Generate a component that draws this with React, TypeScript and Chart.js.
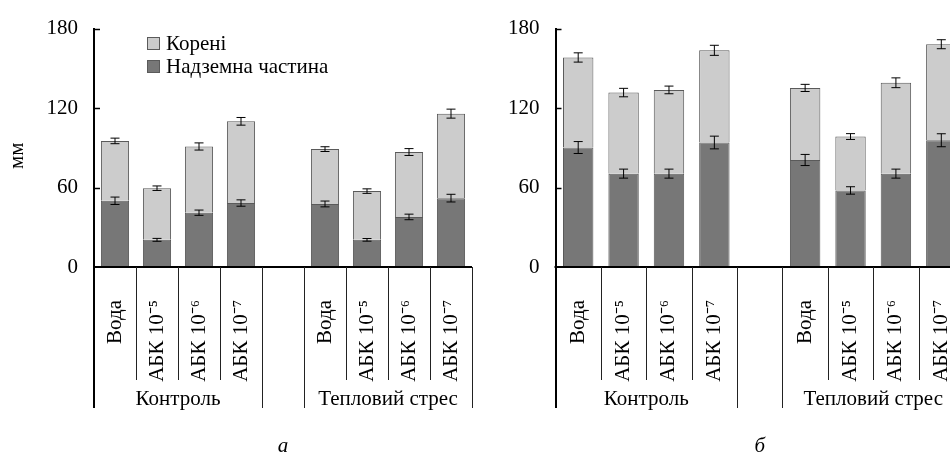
import React, { useEffect, useRef } from "react";
import { Chart, registerables } from "chart.js";
Chart.register(...registerables);

// ---------- data ----------
const categories = ["Вода", "АБК 10⁻⁵", "АБК 10⁻⁶", "АБК 10⁻⁷", "", "Вода", "АБК 10⁻⁵", "АБК 10⁻⁶", "АБК 10⁻⁷"];
const groupLabels = ["Контроль", "Тепловий стрес"];
const groupStart = [0, 5];
const groupEnd = [3, 8];
const seriesNames = ["Корені", "Надземна частина"];
const yTicks = [0, 60, 120, 180];
const yTitle = "мм";

// panel а
const shootA = [50, 20.5, 41, 48.3, null, 47.6, 20.5, 37.8, 52];
const shootErrA = [2.8, 1.1, 2, 2.4, null, 2.2, 1, 2.1, 2.9];
const rootA = [45.2, 39, 50, 61.7, null, 41.4, 36.8, 49, 63.8];
const rootErrA = [2.1, 1.7, 2.7, 2.9, null, 1.8, 1.7, 2.6, 3.4];

// panel б
const shootB = [90.2, 70.5, 70.5, 94, null, 80.8, 57.8, 70.5, 95.7];
const shootErrB = [4.5, 3.4, 3.4, 4.8, null, 4.2, 2.8, 3.4, 4.9];
const rootB = [68, 61.2, 63.2, 69.6, null, 54.4, 40.7, 68.6, 72.5];
const rootErrB = [3.5, 3.2, 2.9, 3.8, null, 2.7, 2.2, 3.7, 3.4];

const captions = ["а", "б"];

// ---------- styles ----------
const FONT = "'Liberation Serif', 'Times New Roman', serif";
const FS = 21;
const ROOT_COLOR = "#cccccc";
const SHOOT_COLOR = "#777777";
const BAR_BORDER = "#5a5a5a";

type PanelOpts = {
  shoot: (number | null)[];
  shootErr: (number | null)[];
  root: (number | null)[];
  rootErr: (number | null)[];
  caption: string;
  legend: boolean;
  title: boolean;
};

function makeOverlay(o: PanelOpts) {
  return {
    id: "overlay",
    afterDatasetsDraw(chart: any) {
      const ctx: CanvasRenderingContext2D = chart.ctx;
      const xs = chart.scales.x;
      const ys = chart.scales.y;
      const area = chart.chartArea;
      const n = categories.length;
      const slot = xs.getPixelForValue(1) - xs.getPixelForValue(0);
      const y0 = ys.getPixelForValue(0);
      ctx.save();

      // error bars
      ctx.strokeStyle = "#000";
      ctx.lineWidth = 1;
      const cap = 4.5;
      const drawErr = (cx: number, v: number, e: number) => {
        const t = ys.getPixelForValue(v + e);
        const b = ys.getPixelForValue(v - e);
        ctx.beginPath();
        ctx.moveTo(cx, t); ctx.lineTo(cx, b);
        ctx.moveTo(cx - cap, t); ctx.lineTo(cx + cap, t);
        ctx.moveTo(cx - cap, b); ctx.lineTo(cx + cap, b);
        ctx.stroke();
      };
      for (let i = 0; i < n; i++) {
        const s = o.shoot[i];
        const r = o.root[i];
        if (s == null || r == null) continue;
        const cx = xs.getPixelForValue(i);
        drawErr(cx, s, o.shootErr[i] as number);
        drawErr(cx, s + r, o.rootErr[i] as number);
      }

      // inward y ticks
      ctx.strokeStyle = "#000";
      ctx.lineWidth = 1.5;
      for (const t of yTicks) {
        if (t === 0) continue;
        const py = Math.round(ys.getPixelForValue(t)) + 0.5;
        ctx.beginPath();
        ctx.moveTo(area.left, py);
        ctx.lineTo(area.left + 6, py);
        ctx.stroke();
      }

      // x axis line
      ctx.lineWidth = 2;
      ctx.beginPath();
      ctx.moveTo(area.left - 1, y0);
      ctx.lineTo(area.right, y0);
      ctx.stroke();

      // dividers
      const longSet = new Set<number>([0, n]);
      groupStart.forEach((g) => longSet.add(g));
      groupEnd.forEach((g) => longSet.add(g + 1));
      for (let k = 0; k <= n; k++) {
        const bx = Math.round(xs.getPixelForValue(0) - slot / 2 + k * slot) + 0.5;
        const isLong = longSet.has(k);
        ctx.lineWidth = k === 0 ? 2 : 1;
        ctx.strokeStyle = k === 0 ? "#000" : "#222";
        ctx.beginPath();
        ctx.moveTo(k === 0 ? bx - 0.5 : bx, y0);
        ctx.lineTo(k === 0 ? bx - 0.5 : bx, y0 + (isLong ? 141 : 113));
        ctx.stroke();
      }

      // category labels (rotated)
      ctx.fillStyle = "#000";
      ctx.font = `${FS}px ${FONT}`;
      for (let i = 0; i < n; i++) {
        if (!categories[i]) continue;
        const cx = xs.getPixelForValue(i);
        ctx.save();
        ctx.translate(cx, y0 + 33);
        ctx.rotate(-Math.PI / 2);
        ctx.textAlign = "right";
        ctx.textBaseline = "middle";
        ctx.fillText(categories[i], 0, 0);
        ctx.restore();
      }

      // group labels
      ctx.textAlign = "center";
      ctx.textBaseline = "middle";
      for (let g = 0; g < groupLabels.length; g++) {
        const a = xs.getPixelForValue(groupStart[g]) - slot / 2;
        const b = xs.getPixelForValue(groupEnd[g]) + slot / 2;
        ctx.fillText(groupLabels[g], (a + b) / 2, y0 + 132);
      }

      // caption
      ctx.font = `italic ${FS}px ${FONT}`;
      ctx.textBaseline = "alphabetic";
      ctx.fillText(o.caption, (area.left + area.right) / 2, y0 + 185);

      // y title
      if (o.title) {
        ctx.font = `${FS}px ${FONT}`;
        ctx.save();
        ctx.translate(17, (ys.getPixelForValue(yTicks[0]) + ys.getPixelForValue(yTicks[yTicks.length - 1])) / 2 + 8);
        ctx.rotate(-Math.PI / 2);
        ctx.textAlign = "center";
        ctx.textBaseline = "middle";
        ctx.fillText(yTitle, 0, 0);
        ctx.restore();
      }

      // legend
      if (o.legend) {
        const colors = [ROOT_COLOR, SHOOT_COLOR];
        ctx.font = `${FS}px ${FONT}`;
        ctx.textAlign = "left";
        ctx.textBaseline = "middle";
        for (let j = 0; j < seriesNames.length; j++) {
          const cy = 43.5 + j * 23;
          const bx = area.left + 53;
          ctx.fillStyle = colors[j];
          ctx.fillRect(bx, cy - 6.5, 13, 13);
          ctx.strokeStyle = BAR_BORDER;
          ctx.lineWidth = 1;
          ctx.strokeRect(bx + 0.5, cy - 6, 12, 12);
          ctx.fillStyle = "#000";
          ctx.fillText(seriesNames[j], bx + 19, cy + 1);
        }
      }
      ctx.restore();
    },
  };
}

function buildConfig(o: PanelOpts, padLeft: number, yWidth: number, padRight: number): any {
  return {
    type: "bar",
    data: {
      labels: categories,
      datasets: [
        {
          label: seriesNames[1],
          data: o.shoot,
          backgroundColor: SHOOT_COLOR,
          borderColor: BAR_BORDER,
          borderWidth: 1,
        },
        {
          label: seriesNames[0],
          data: o.root,
          backgroundColor: ROOT_COLOR,
          borderColor: BAR_BORDER,
          borderWidth: 1,
        },
      ],
    },
    options: {
      responsive: false,
      animation: false,
      devicePixelRatio: 1,
      layout: { padding: { left: padLeft, right: padRight, top: 21, bottom: 187 } },
      datasets: { bar: { categoryPercentage: 1, barPercentage: 0.67 } },
      plugins: { legend: { display: false }, tooltip: { enabled: false } },
      scales: {
        x: { display: false, stacked: true },
        y: {
          stacked: true,
          min: 0,
          max: 180,
          afterBuildTicks: (s: any) => {
            s.ticks = yTicks.map((v) => ({ value: v }));
          },
          afterFit: (s: any) => {
            s.width = yWidth;
          },
          grid: { display: false, drawTicks: false },
          border: { display: true, color: "#000", width: 2 },
          ticks: { color: "#000", padding: 16, font: { family: FONT, size: FS } },
        },
      },
    },
    plugins: [makeOverlay(o)],
  };
}

function Panel({ left, width, opts, padLeft, yWidth, padRight }: any) {
  const ref = useRef<HTMLCanvasElement | null>(null);
  useEffect(() => {
    if (!ref.current) return;
    const chart = new Chart(ref.current, buildConfig(opts, padLeft, yWidth, padRight));
    return () => chart.destroy();
  }, []);
  return (
    <canvas
      ref={ref}
      width={width}
      height={454}
      style={{ position: "absolute", left, top: 0, width, height: 454, display: "block" }}
    />
  );
}

export default function App() {
  const optsA: PanelOpts = {
    shoot: shootA, shootErr: shootErrA, root: rootA, rootErr: rootErrA,
    caption: captions[0], legend: true, title: true,
  };
  const optsB: PanelOpts = {
    shoot: shootB, shootErr: shootErrB, root: rootB, rootErr: rootErrB,
    caption: captions[1], legend: false, title: false,
  };
  return (
    <div style={{ position: "absolute", left: 0, top: 0, width: 950, height: 454, overflow: "hidden", background: "#fff" }}>
      <Panel left={0} width={480} opts={optsA} padLeft={0} yWidth={94} padRight={8} />
      <Panel left={480} width={500} opts={optsB} padLeft={0} yWidth={75.5} padRight={16} />
    </div>
  );
}
